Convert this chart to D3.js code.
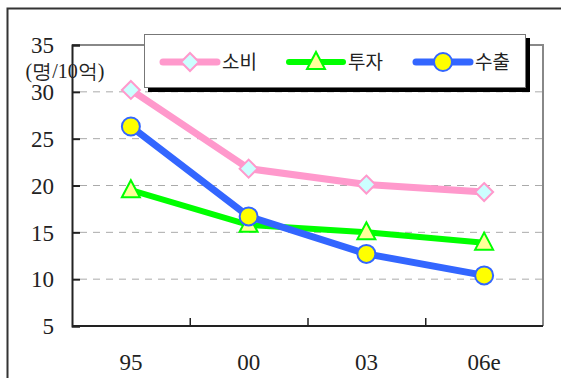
<!DOCTYPE html>
<html><head><meta charset="utf-8">
<script src="https://cdn.jsdelivr.net/npm/d3@7"></script>
<style>body{margin:0;background:#fff;} svg{display:block;} .sf{font-family:"Liberation Serif","DejaVu Serif",serif;} .kf{font-family:"Noto Sans CJK KR",sans-serif;}</style>
</head><body>
<svg id="c" width="561" height="378"></svg>
<script>
const categories = ["95", "00", "03", "06e"];
const consumption = [30.2, 21.8, 20.1, 19.3];   // 소비
const investment = [19.5, 15.8, 15.0, 13.9];    // 투자
const exports_ = [26.3, 16.7, 12.7, 10.4];      // 수출
const yTicks = [5, 10, 15, 20, 25, 30, 35];
const seriesNames = ["소비", "투자", "수출"];
const yUnit = "(명/10억)";

const svg = d3.select("#c");
const L = 72, R = 543, T = 45, B = 326;

svg.append("path").attr("d", "M7.5,378 V8.5 H561").attr("fill", "none").attr("stroke", "#333").attr("stroke-width", 2);

const x = d3.scaleBand().domain(categories).range([L, R]);
const y = d3.scaleLinear().domain([5, 35]).range([B, T]);

svg.append("g").selectAll("line").data(yTicks.filter(v => v > 5 && v < 35)).join("line")
  .attr("x1", L + 8).attr("x2", R).attr("y1", d => y(d)).attr("y2", d => y(d))
  .attr("stroke", "#aaa").attr("stroke-width", 1).attr("stroke-dasharray", "7,6");

svg.append("path").attr("d", `M${L},${T} H${R} V${B}`).attr("fill", "none").attr("stroke", "#888").attr("stroke-width", 2);

const ya = svg.append("g").attr("transform", `translate(${L},0)`)
  .call(d3.axisRight(y).tickValues(yTicks).tickSize(8).tickFormat(""));
ya.select(".domain").attr("stroke", "#222").attr("stroke-width", 2);
ya.selectAll(".tick line").attr("stroke", "#222").attr("stroke-width", 2);
svg.append("g").selectAll("text").data(yTicks).join("text").attr("class", "sf")
  .attr("x", 54).attr("y", d => y(d)).attr("dy", "0.36em").attr("text-anchor", "end")
  .attr("font-size", 23).attr("fill", "#222").text(d => d);

const boundaries = categories.slice(1).map(c => x(c));
const xa = svg.append("g").attr("transform", `translate(0,${B})`)
  .call(d3.axisTop(d3.scaleLinear().domain([L, R]).range([L, R])).tickValues(boundaries).tickSize(8).tickFormat(""));
xa.select(".domain").attr("d", `M${L},0H${R}`).attr("stroke", "#222").attr("stroke-width", 2);
xa.selectAll(".tick line").attr("stroke", "#222").attr("stroke-width", 1.5);
svg.append("g").selectAll("text").data(categories).join("text").attr("class", "sf")
  .attr("x", d => x(d) + x.bandwidth() / 2).attr("y", 362).attr("dy", "0.36em").attr("text-anchor", "middle")
  .attr("font-size", 23).attr("fill", "#222").text(d => d);

svg.append("text").attr("class", "sf").attr("x", 65).attr("y", 71).attr("dy", "0.36em").attr("text-anchor", "middle")
  .attr("font-size", 20).attr("fill", "#222").text(yUnit);

const cx = d => x(d) + x.bandwidth() / 2;
const series = [
  { name: seriesNames[0], values: consumption, color: "#ff99cc", fill: "#ccffff", sym: "diamond", w: 7 },
  { name: seriesNames[1], values: investment, color: "#00ff00", fill: "#ffff99", sym: "triangle", w: 6 },
  { name: seriesNames[2], values: exports_, color: "#3366ff", fill: "#ffff00", sym: "circle", w: 7 }
];
const line = d3.line().x((d, i) => cx(categories[i])).y(d => y(d));
function marker(g, s) {
  if (s.sym === "diamond") return g.append("path").attr("d", "M0,-9L9,0L0,9L-9,0Z");
  if (s.sym === "triangle") return g.append("path").attr("d", "M0,-10L9,7L-9,7Z");
  return g.append("circle").attr("r", 9);
}
[series[1], series[0], series[2]].forEach(s => {
  svg.append("path").datum(s.values).attr("d", line).attr("fill", "none")
    .attr("stroke", s.color).attr("stroke-width", s.w).attr("stroke-linejoin", "round");
  s.values.forEach((v, i) => {
    const g = svg.append("g").attr("transform", `translate(${cx(categories[i])},${y(v)})`);
    marker(g, s).attr("fill", s.fill).attr("stroke", s.color).attr("stroke-width", 2);
  });
});

const lg = svg.append("g");
lg.append("rect").attr("x", 148).attr("y", 38).attr("width", 382).attr("height", 54).attr("fill", "#000");
lg.append("rect").attr("x", 144.5).attr("y", 34.5).attr("width", 381).attr("height", 53).attr("fill", "#fff").attr("stroke", "#777").attr("stroke-width", 1);
const lx = [163, 289, 416];
series.forEach((s, i) => {
  const g = lg.append("g").attr("transform", `translate(${lx[i]},62)`);
  g.append("line").attr("x1", 0).attr("x2", 54).attr("stroke", s.color).attr("stroke-width", s.w).attr("stroke-linecap", "round");
  const m = g.append("g").attr("transform", "translate(27,0)");
  marker(m, s).attr("fill", s.fill).attr("stroke", s.color).attr("stroke-width", 2);
  g.append("text").attr("class", "kf").attr("x", 59).attr("y", 0).attr("dy", "0.36em")
    .attr("font-size", 19).attr("fill", "#222").text(s.name);
});
</script>
</body></html>
